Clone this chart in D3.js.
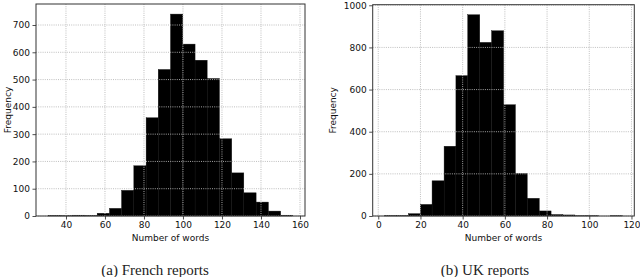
<!DOCTYPE html>
<html><head><meta charset="utf-8">
<script src="https://cdn.jsdelivr.net/npm/d3@7"></script>
<style>body{margin:0;background:#fff;} svg{display:block;}</style>
</head><body>
<svg id="c" width="640" height="277"></svg>
<script>
// French reports histogram
const frenchEdges = [30.9, 37.2, 43.4, 49.7, 56.0, 62.3, 68.5, 74.8, 81.1, 87.3, 93.6, 99.9, 106.2, 112.4, 118.7, 125.0, 131.2, 137.5, 143.8, 150.1, 156.3];
const frenchCounts = [2, 1, 3, 2, 10, 28, 94, 184, 360, 537, 740, 630, 571, 504, 283, 158, 85, 51, 18, 3];
const frenchXTicks = [40, 60, 80, 100, 120, 140, 160];
const frenchYTicks = [0, 100, 200, 300, 400, 500, 600, 700];
// UK reports histogram
const ukEdges = [3.0, 8.6, 14.3, 19.9, 25.5, 31.2, 36.8, 42.4, 48.1, 53.7, 59.4, 65.0, 70.6, 76.3, 81.9, 87.5, 93.2, 98.8, 104.4, 110.1, 115.7];
const ukCounts = [2, 2, 11, 55, 167, 331, 666, 955, 824, 879, 528, 202, 84, 24, 7, 5, 1, 1, 0, 1];
const ukXTicks = [0, 20, 40, 60, 80, 100, 120];
const ukYTicks = [0, 200, 400, 600, 800, 1000];

const svg = d3.select("#c");

function panel(cfg) {
  const {edges, counts, xTicks, yTicks, left, right, top, bottom, caption, ylabelX} = cfg;
  const span = edges[edges.length-1] - edges[0];
  const x = d3.scaleLinear()
    .domain([edges[0] - 0.05*span, edges[edges.length-1] + 0.05*span])
    .range([left, right]);
  const y = d3.scaleLinear().domain([0, d3.max(counts)*1.05]).range([bottom, top]);
  const g = svg.append("g");
  const bins = counts.map((c,i)=>({x0:edges[i], x1:edges[i+1], c}));
  g.selectAll("rect.bar").data(bins).enter().append("rect")
    .attr("x", d=>x(d.x0)).attr("width", d=>x(d.x1)-x(d.x0))
    .attr("y", d=>y(d.c)).attr("height", d=>bottom-y(d.c))
    .attr("fill", "#000").attr("stroke", "#111").attr("stroke-width", 0.4);
  // grid
  g.selectAll("line.gx").data(xTicks).enter().append("line")
    .attr("x1", d=>x(d)).attr("x2", d=>x(d)).attr("y1", top).attr("y2", bottom)
    .attr("stroke", "#b8b8b8").attr("stroke-width", 0.9).attr("stroke-dasharray", "1,1.2");
  g.selectAll("line.gy").data(yTicks).enter().append("line")
    .attr("y1", d=>y(d)).attr("y2", d=>y(d)).attr("x1", left).attr("x2", right)
    .attr("stroke", "#b8b8b8").attr("stroke-width", 0.9).attr("stroke-dasharray", "1,1.2");
  // axes
  const xa = g.append("g").attr("transform", `translate(0,${bottom})`)
    .call(d3.axisBottom(x).tickValues(xTicks).tickFormat(d3.format("d")).tickSize(3.5).tickPadding(2.5).tickSizeOuter(0));
  const ya = g.append("g").attr("transform", `translate(${left},0)`)
    .call(d3.axisLeft(y).tickValues(yTicks).tickFormat(d3.format("d")).tickSize(3.5).tickPadding(2.5).tickSizeOuter(0));
  [xa, ya].forEach(a => {
    a.select(".domain").remove();
    a.selectAll("text").attr("font-family", "DejaVu Sans").attr("font-size", 9).attr("fill", "#111");
    a.selectAll("line").attr("stroke", "#222").attr("stroke-width", 0.8);
  });
  g.append("rect").attr("x", left).attr("y", top).attr("width", right-left).attr("height", bottom-top)
    .attr("fill", "none").attr("stroke", "#333").attr("stroke-width", 1);
  g.append("text").attr("x", (left+right)/2).attr("y", 241)
    .attr("text-anchor", "middle").attr("font-family", "DejaVu Sans").attr("font-size", 9).attr("fill", "#111")
    .text("Number of words");
  g.append("text").attr("transform", `translate(${ylabelX},${(top+bottom)/2}) rotate(-90)`)
    .attr("text-anchor", "middle").attr("font-family", "DejaVu Sans").attr("font-size", 9).attr("fill", "#111")
    .text("Frequency");
  g.append("text").attr("x", cfg.capX).attr("y", 275)
    .attr("text-anchor", "middle").attr("font-family", "Liberation Serif").attr("font-size", 15).attr("fill", "#222")
    .text(caption);
}

panel({edges: frenchEdges, counts: frenchCounts, xTicks: frenchXTicks, yTicks: frenchYTicks,
  left: 36, right: 305, top: 4, bottom: 216, caption: "(a) French reports", ylabelX: 11, capX: 155});
panel({edges: ukEdges, counts: ukCounts, xTicks: ukXTicks, yTicks: ukYTicks,
  left: 372.7, right: 634.3, top: 4.7, bottom: 216, caption: "(b) UK reports", ylabelX: 336, capX: 485});
</script>
</body></html>
